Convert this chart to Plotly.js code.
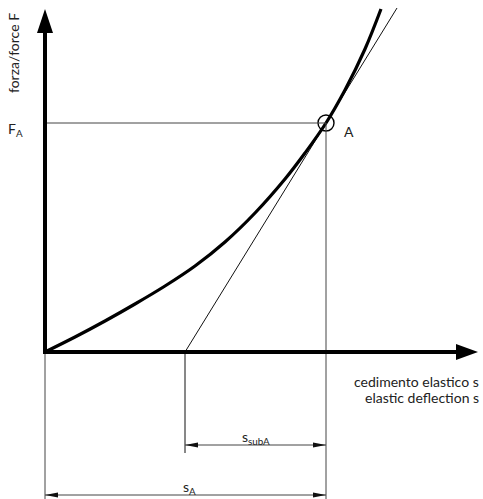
<!DOCTYPE html>
<html>
<head>
<meta charset="utf-8">
<script src="https://cdn.plot.ly/plotly-3.0.1.min.js"></script>
<style>
  html, body { margin: 0; padding: 0; background: #ffffff; }
  #chart { width: 483px; height: 499px; }
</style>
</head>
<body>
<div id="chart"></div>
<script>
// load curve: elastic deflection s vs force F (drawing units)
const deflection = [0, 30, 60, 90, 120, 150, 180, 210, 240, 260, 281, 300, 320, 336];
const force      = [0, 15, 31, 48, 66, 86, 110, 139, 173, 199, 229, 262, 303, 343];

// working point A and tangent through it
const sA = 281;
const FA = 229;
const tangentS = [140, 281, 352];
const tangentF = [0, 229, 344];

const font = { family: 'Lato, "Liberation Sans", sans-serif', size: 14, color: '#222' };
const thin = { color: '#444', width: 1 };
const s0 = tangentS[0];

// dimension line levels (below the s axis)
const dimSub = -93;
const dimA = -143;

function arrowPath(xTip, y, dir, len, half) {
  const xb = xTip - dir * len;
  return `M ${xTip},${y} L ${xb},${y + half} L ${xb},${y - half} Z`;
}

const traces = [
  {
    x: tangentS, y: tangentF,
    mode: 'lines', line: { color: '#111', width: 1 },
    hoverinfo: 'skip'
  },
  {
    x: deflection, y: force,
    mode: 'lines', line: { color: '#000', width: 3.2, shape: 'spline', smoothing: 1, simplify: false },
    hoverinfo: 'skip'
  },
  {
    x: [sA], y: [FA],
    mode: 'markers',
    marker: { symbol: 'circle-open', size: 16, color: '#000', line: { width: 1.4, color: '#000' } },
    hoverinfo: 'skip'
  }
];

const shapes = [
  // helper lines
  { type: 'line', x0: 0, y0: FA, x1: sA, y1: FA, line: thin },
  { type: 'line', x0: sA, y0: FA, x1: sA, y1: -147, line: thin },
  { type: 'line', x0: 0, y0: 0, x1: 0, y1: -147, line: thin },
  { type: 'line', x0: s0, y0: 0, x1: s0, y1: -101, line: { color: '#111', width: 1 } },
  // dimension lines
  { type: 'line', x0: s0, y0: dimSub, x1: sA, y1: dimSub, line: thin },
  { type: 'path', path: arrowPath(s0, dimSub, -1, 13, 2.5), fillcolor: '#111', line: { width: 0 } },
  { type: 'path', path: arrowPath(sA, dimSub, 1, 13, 2.5), fillcolor: '#111', line: { width: 0 } },
  { type: 'line', x0: 0, y0: dimA, x1: sA, y1: dimA, line: thin },
  { type: 'path', path: arrowPath(0, dimA, -1, 13, 2.5), fillcolor: '#111', line: { width: 0 } },
  { type: 'path', path: arrowPath(sA, dimA, 1, 13, 2.5), fillcolor: '#111', line: { width: 0 } },
  // main axes
  { type: 'line', x0: 0, y0: -2, x1: 0, y1: 321, line: { color: '#000', width: 4 } },
  { type: 'path', path: 'M -8,319 L 8,319 L 0,343 Z', fillcolor: '#000', line: { width: 0 } },
  { type: 'line', x0: -2, y0: 0, x1: 413, y1: 0, line: { color: '#000', width: 4 } },
  { type: 'path', path: 'M 411,-8 L 411,8 L 433,0 Z', fillcolor: '#000', line: { width: 0 } }
];

const annotations = [
  { x: -32, y: 299, text: 'forza/force F', textangle: -90, showarrow: false, font: font, xanchor: 'center', yanchor: 'middle' },
  { x: -30, y: 223, text: 'F<sub>A</sub>', showarrow: false, font: font, xanchor: 'center', yanchor: 'middle' },
  { x: sA + 23, y: 221, text: 'A', showarrow: false, font: font, xanchor: 'center', yanchor: 'middle' },
  { x: 436, y: -29, text: 'cedimento elastico s', showarrow: false, font: font, xanchor: 'right', yanchor: 'middle' },
  { x: 436, y: -45, text: 'elastic deflection s', showarrow: false, font: font, xanchor: 'right', yanchor: 'middle' },
  { x: (s0 + sA) / 2, y: dimSub - 4, text: 's<sub>subA</sub>', showarrow: false, font: font, xanchor: 'center', yanchor: 'bottom' },
  { x: 144, y: dimA - 4, text: 's<sub>A</sub>', showarrow: false, font: font, xanchor: 'center', yanchor: 'bottom' }
];

const layout = {
  width: 483,
  height: 499,
  margin: { l: 0, r: 0, t: 0, b: 0 },
  paper_bgcolor: '#ffffff',
  plot_bgcolor: '#ffffff',
  showlegend: false,
  xaxis: { range: [-45, 438], visible: false, fixedrange: true },
  yaxis: { range: [-147, 352], visible: false, fixedrange: true },
  shapes: shapes,
  annotations: annotations
};

Plotly.newPlot('chart', traces, layout, { displayModeBar: false, staticPlot: true });
</script>
</body>
</html>
